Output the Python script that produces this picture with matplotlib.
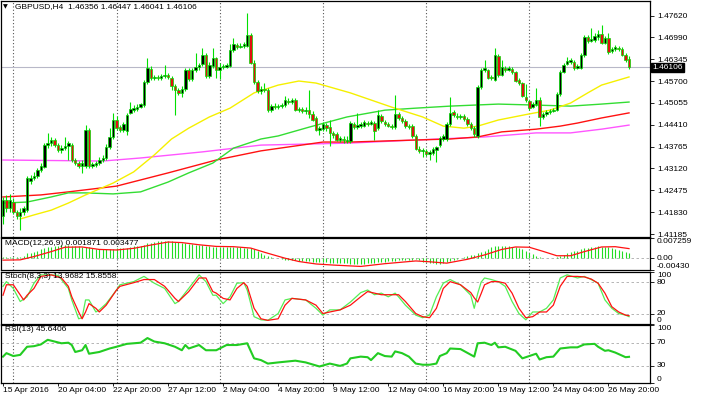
import numpy as np
import matplotlib.pyplot as plt
from matplotlib.transforms import blended_transform_factory

plt.rcParams['font.family'] = ['Liberation Sans', 'DejaVu Sans']

# GBPUSD H4 candles, one entry per bar (bar 0 = 15 Apr 2016 12:00)
opens = [1.4172, 1.4219, 1.4195, 1.4213, 1.4184, 1.4172, 1.4184, 1.4189, 1.4275, 1.4284,
         1.4290, 1.4307, 1.4316, 1.4381, 1.4387, 1.4396, 1.4381, 1.4366, 1.4372, 1.4378,
         1.4381, 1.4337, 1.4328, 1.4319, 1.4319, 1.4425, 1.4319, 1.4322, 1.4328, 1.4337,
         1.4343, 1.4375, 1.4405, 1.4455, 1.4434, 1.4425, 1.4423, 1.4476, 1.4484, 1.4487,
         1.4493, 1.4499, 1.4567, 1.4605, 1.4579, 1.4582, 1.4579, 1.4585, 1.4588, 1.4579,
         1.4555, 1.4543, 1.4535, 1.4546, 1.4602, 1.4576, 1.4602, 1.4611, 1.4620, 1.4647,
         1.4585, 1.4614, 1.4638, 1.4602, 1.4611, 1.4611, 1.4614, 1.4662, 1.4676, 1.4670,
         1.4673, 1.4673, 1.4706, 1.4623, 1.4567, 1.4541, 1.4546, 1.4543, 1.4484, 1.4496,
         1.4493, 1.4496, 1.4499, 1.4511, 1.4508, 1.4514, 1.4484, 1.4487, 1.4482, 1.4484,
         1.4473, 1.4461, 1.4425, 1.4428, 1.4440, 1.4434, 1.4417, 1.4414, 1.4396, 1.4399,
         1.4393, 1.4393, 1.4443, 1.4434, 1.4437, 1.4437, 1.4446, 1.4443, 1.4446, 1.4431,
         1.4467, 1.4449, 1.4443, 1.4437, 1.4434, 1.4473, 1.4461, 1.4452, 1.4437, 1.4437,
         1.4408, 1.4369, 1.4364, 1.4364, 1.4355, 1.4358, 1.4366, 1.4381, 1.4399, 1.4399,
         1.4443, 1.4479, 1.4467, 1.4464, 1.4467, 1.4458, 1.4443, 1.4431, 1.4408, 1.4552,
         1.4602, 1.4602, 1.4582, 1.4573, 1.4644, 1.4588, 1.4608, 1.4602, 1.4605, 1.4597,
         1.4573, 1.4564, 1.4523, 1.4511, 1.4493, 1.4502, 1.4514, 1.4464, 1.4473, 1.4479,
         1.4482, 1.4484, 1.4532, 1.4597, 1.4620, 1.4626, 1.4626, 1.4608, 1.4608, 1.4647,
         1.4700, 1.4688, 1.4691, 1.4700, 1.4709, 1.4682, 1.4697, 1.4659, 1.4664, 1.4667,
         1.4664, 1.4647, 1.46356]
highs = [1.4228, 1.4234, 1.4237, 1.4225, 1.4189, 1.4195, 1.4201, 1.4290, 1.4293, 1.4302,
         1.4313, 1.4328, 1.4387, 1.4417, 1.4405, 1.4402, 1.4387, 1.4381, 1.4405, 1.4393,
         1.4387, 1.4343, 1.4334, 1.4337, 1.4440, 1.4431, 1.4331, 1.4334, 1.4346, 1.4352,
         1.4384, 1.4431, 1.4476, 1.4467, 1.4440, 1.4449, 1.4476, 1.4508, 1.4499, 1.4502,
         1.4505, 1.4573, 1.4638, 1.4614, 1.4588, 1.4588, 1.4591, 1.4617, 1.4594, 1.4585,
         1.4561, 1.4549, 1.4555, 1.4608, 1.4608, 1.4608, 1.4653, 1.4623, 1.4667, 1.4653,
         1.4626, 1.4667, 1.4641, 1.4623, 1.4620, 1.4623, 1.4679, 1.4697, 1.4682, 1.4682,
         1.4685, 1.4771, 1.4712, 1.4632, 1.4573, 1.4555, 1.4564, 1.4549, 1.4502, 1.4505,
         1.4502, 1.4505, 1.4526, 1.4520, 1.4520, 1.4520, 1.4493, 1.4493, 1.4493, 1.4543,
         1.4482, 1.4467, 1.4437, 1.4449, 1.4446, 1.4455, 1.4423, 1.4420, 1.4408, 1.4408,
         1.4408, 1.4452, 1.4449, 1.4476, 1.4449, 1.4455, 1.4452, 1.4455, 1.4452, 1.4484,
         1.4473, 1.4455, 1.4449, 1.4443, 1.4529, 1.4479, 1.4467, 1.4458, 1.4443, 1.4443,
         1.4414, 1.4378, 1.4372, 1.4369, 1.4366, 1.4375, 1.4378, 1.4408, 1.4414, 1.4449,
         1.4523, 1.4484, 1.4476, 1.4473, 1.4473, 1.4464, 1.4449, 1.4437, 1.4558, 1.4608,
         1.4632, 1.4605, 1.4588, 1.4667, 1.4650, 1.4632, 1.4614, 1.4614, 1.4611, 1.4600,
         1.4579, 1.4567, 1.4561, 1.4514, 1.4508, 1.4549, 1.4523, 1.4479, 1.4484, 1.4487,
         1.4490, 1.4538, 1.4602, 1.4623, 1.4641, 1.4638, 1.4632, 1.4620, 1.4653, 1.4706,
         1.4706, 1.4726, 1.4712, 1.4720, 1.4735, 1.4703, 1.4712, 1.4670, 1.4676, 1.4673,
         1.4670, 1.4653, 1.46447]
lows = [1.4148, 1.4184, 1.4184, 1.4178, 1.4163, 1.4130, 1.4175, 1.4184, 1.4266, 1.4278,
        1.4284, 1.4302, 1.4313, 1.4372, 1.4378, 1.4375, 1.4361, 1.4358, 1.4366, 1.4337,
        1.4331, 1.4322, 1.4313, 1.4299, 1.4313, 1.4313, 1.4313, 1.4316, 1.4322, 1.4331,
        1.4337, 1.4369, 1.4399, 1.4425, 1.4420, 1.4420, 1.4411, 1.4473, 1.4479, 1.4482,
        1.4490, 1.4493, 1.4561, 1.4573, 1.4573, 1.4573, 1.4573, 1.4579, 1.4576, 1.4543,
        1.4470, 1.4529, 1.4523, 1.4541, 1.4570, 1.4570, 1.4597, 1.4602, 1.4614, 1.4579,
        1.4579, 1.4608, 1.4579, 1.4576, 1.4605, 1.4608, 1.4611, 1.4656, 1.4664, 1.4667,
        1.4667, 1.4670, 1.4620, 1.4561, 1.4535, 1.4532, 1.4538, 1.4479, 1.4479, 1.4487,
        1.4487, 1.4490, 1.4493, 1.4502, 1.4502, 1.4482, 1.4479, 1.4476, 1.4473, 1.4461,
        1.4452, 1.4423, 1.4411, 1.4423, 1.4423, 1.4378, 1.4402, 1.4393, 1.4390, 1.4387,
        1.4387, 1.4387, 1.4428, 1.4428, 1.4431, 1.4434, 1.4437, 1.4440, 1.4396, 1.4425,
        1.4446, 1.4437, 1.4434, 1.4428, 1.4428, 1.4455, 1.4446, 1.4431, 1.4428, 1.4402,
        1.4366, 1.4358, 1.4346, 1.4349, 1.4337, 1.4352, 1.4331, 1.4375, 1.4393, 1.4393,
        1.4437, 1.4464, 1.4458, 1.4458, 1.4452, 1.4437, 1.4425, 1.4405, 1.4402, 1.4546,
        1.4597, 1.4576, 1.4573, 1.4570, 1.4582, 1.4585, 1.4597, 1.4600, 1.4591, 1.4567,
        1.4558, 1.4523, 1.4508, 1.4484, 1.4490, 1.4496, 1.4437, 1.4458, 1.4467, 1.4473,
        1.4479, 1.4482, 1.4526, 1.4594, 1.4617, 1.4620, 1.4602, 1.4605, 1.4605, 1.4641,
        1.4682, 1.4685, 1.4685, 1.4691, 1.4679, 1.4679, 1.4650, 1.4653, 1.4659, 1.4659,
        1.4644, 1.4626, 1.46041]
closes = [1.4219, 1.4195, 1.4219, 1.4184, 1.4172, 1.4184, 1.4195, 1.4284, 1.4284, 1.4290,
          1.4307, 1.4319, 1.4381, 1.4387, 1.4396, 1.4381, 1.4366, 1.4372, 1.4378, 1.4387,
          1.4337, 1.4328, 1.4319, 1.4328, 1.4425, 1.4319, 1.4325, 1.4328, 1.4337, 1.4343,
          1.4375, 1.4405, 1.4455, 1.4431, 1.4425, 1.4443, 1.4470, 1.4487, 1.4490, 1.4493,
          1.4502, 1.4567, 1.4608, 1.4579, 1.4582, 1.4579, 1.4585, 1.4588, 1.4582, 1.4555,
          1.4543, 1.4535, 1.4546, 1.4602, 1.4576, 1.4602, 1.4611, 1.4617, 1.4647, 1.4585,
          1.4617, 1.4638, 1.4602, 1.4611, 1.4614, 1.4617, 1.4662, 1.4679, 1.4670, 1.4673,
          1.4679, 1.4706, 1.4623, 1.4567, 1.4541, 1.4546, 1.4543, 1.4484, 1.4496, 1.4493,
          1.4496, 1.4499, 1.4514, 1.4508, 1.4514, 1.4484, 1.4487, 1.4482, 1.4484, 1.4473,
          1.4455, 1.4425, 1.4431, 1.4443, 1.4431, 1.4417, 1.4411, 1.4396, 1.4402, 1.4396,
          1.4396, 1.4446, 1.4434, 1.4440, 1.4443, 1.4449, 1.4443, 1.4449, 1.4423, 1.4470,
          1.4452, 1.4443, 1.4437, 1.4434, 1.4473, 1.4461, 1.4452, 1.4437, 1.4434, 1.4408,
          1.4369, 1.4364, 1.4366, 1.4355, 1.4361, 1.4369, 1.4375, 1.4402, 1.4408, 1.4443,
          1.4476, 1.4470, 1.4464, 1.4467, 1.4458, 1.4443, 1.4431, 1.4414, 1.4552, 1.4602,
          1.4608, 1.4579, 1.4579, 1.4647, 1.4588, 1.4611, 1.4602, 1.4608, 1.4597, 1.4570,
          1.4564, 1.4526, 1.4514, 1.4490, 1.4502, 1.4514, 1.4464, 1.4473, 1.4479, 1.4482,
          1.4484, 1.4532, 1.4597, 1.4617, 1.4629, 1.4632, 1.4608, 1.4614, 1.4647, 1.4700,
          1.4688, 1.4694, 1.4703, 1.4709, 1.4682, 1.4697, 1.4656, 1.4664, 1.4670, 1.4664,
          1.4647, 1.4632, 1.46106]

# moving averages (vertices at bar index)
ma_yellow_x = [5, 9, 14, 19, 24, 32, 38, 44, 49, 54, 60, 66, 73, 80, 86, 91, 101, 113,
               122, 128, 134, 138, 144, 153, 159, 165, 170, 174, 182]
ma_yellow = [1.4163, 1.4175, 1.4189, 1.4210, 1.4234, 1.4269, 1.4302, 1.4352, 1.4399,
             1.4431, 1.4464, 1.4490, 1.4535, 1.4558, 1.4570, 1.4564, 1.4535, 1.4493,
             1.4464, 1.4437, 1.4431, 1.4437, 1.4455, 1.4473, 1.4484, 1.4505, 1.4535,
             1.4558, 1.4582]
ma_green_x = [0, 7, 14, 19, 24, 32, 40, 48, 54, 61, 67, 75, 80, 89, 100, 111, 120, 130,
              144, 155, 165, 174, 182]
ma_green = [1.4210, 1.4213, 1.4228, 1.4240, 1.4240, 1.4237, 1.4243, 1.4272, 1.4299,
            1.4328, 1.4372, 1.4399, 1.4408, 1.4434, 1.4464, 1.4484, 1.4490, 1.4496,
            1.4502, 1.4499, 1.4496, 1.4502, 1.4508]
ma_red_x = [0, 11, 19, 33, 48, 62, 75, 93, 101, 120, 130, 138, 145, 155, 162, 167, 174, 182]
ma_red = [1.4228, 1.4234, 1.4243, 1.4260, 1.4299, 1.4337, 1.4364, 1.4390, 1.4390,
          1.4396, 1.4399, 1.4405, 1.4420, 1.4428, 1.4437, 1.4446, 1.4461, 1.4476]
ma_magenta_x = [0, 29, 40, 58, 75, 101, 120, 140, 155, 165, 174, 182]
ma_magenta = [1.4337, 1.4334, 1.4343, 1.4361, 1.4381, 1.4387, 1.4396, 1.4405, 1.4417,
              1.4417, 1.4428, 1.4440]

# MACD(12,26,9): main per bar in units of 1e-4, signal at vertices
macd_main_e4 = [3, 3, 4, 3, 3, 5, 8, 18, 20, 24,
                28, 32, 36, 40, 42, 44, 46, 48, 48, 48,
                46, 45, 43, 42, 42, 40, 37, 35, 33, 32,
                32, 33, 35, 36, 36, 37, 38, 40, 43, 44,
                45, 49, 54, 57, 59, 61, 63, 63, 62, 61,
                60, 58, 56, 55, 53, 51, 49, 48, 47, 45,
                43, 42, 42, 41, 41, 42, 42, 42, 41, 40,
                39, 38, 36, 32, 26, 20, 12, 8, 4, 2,
                0, -4, -5, -6, -7, -8, -9, -10, -11, -12,
                -13, -14, -14, -15, -15, -16, -16, -17, -18, -18,
                -19, -20, -21, -22, -22, -21, -19, -18, -17, -15,
                -14, -13, -12, -11, -9, -8, -7, -6, -5, -5,
                -4, -8, -13, -15, -17, -19, -20, -20, -19, -14,
                -9, -5, -2, 1, 4, 8, 10, 12, 18, 24,
                28, 34, 40, 43, 44, 44, 44, 43, 42, 42,
                38, 32, 27, 20, 14, 8, 5, 2, 0, 0,
                2, 3, 7, 12, 18, 22, 25, 28, 32, 36,
                39, 41, 42, 43, 42, 41, 40, 37, 34, 30,
                25, 21, 19]
macd_sig_x = [0, 5, 9, 14, 18, 23, 28, 33, 38, 43, 48, 52, 57, 62, 67, 72, 77, 82, 86, 91,
              96, 104, 111, 120, 124, 129, 135, 140, 145, 149, 153, 157, 161, 165, 169,
              174, 178, 182]
macd_sig_e4 = [-7, -6, 6, 24, 40, 41, 32, 30, 36, 48, 59, 57, 49, 43, 42, 37, 18, 0, -12,
               -21, -25, -30, -20, -10, -13, -18, -4, 12, 32, 41, 40, 25, 9, 9, 24, 41, 42, 35]

# Stochastic(8,3,3)
stoch_k_x = [0, 1, 3, 5, 7, 9, 11, 14, 16, 17, 19, 20, 22, 23, 24, 25, 27, 28, 30, 33, 34,
             38, 41, 44, 47, 50, 51, 54, 57, 59, 61, 62, 64, 66, 68, 70, 71, 73, 75, 77,
             80, 82, 84, 88, 91, 93, 95, 98, 101, 104, 106, 108, 110, 112, 114, 115, 117,
             120, 122, 124, 126, 128, 130, 133, 136, 137, 138, 139, 140, 142, 144, 146,
             148, 150, 152, 154, 156, 158, 160, 162, 164, 167, 169, 171, 173, 175, 177,
             179, 181, 182]
stoch_k = [72, 81, 68, 43, 52, 78, 94, 94, 93, 85, 68, 46, 10, 12, 46, 46, 23, 27, 39, 65,
           75, 81, 91, 78, 68, 39, 43, 68, 94, 81, 55, 55, 39, 52, 78, 79, 65, 14, 8, 7,
           20, 46, 49, 46, 30, 17, 27, 27, 42, 60, 65, 56, 59, 52, 59, 52, 36,
           17, 12, 17, 52, 78, 85, 75, 55, 30, 58, 80, 88, 85, 81, 72,
           43, 20, 8, 23, 23, 30, 46, 88, 94, 88, 91, 85, 78, 46, 30,
           20, 17, 13.97]
stoch_d_x = [0, 1, 3, 6, 7, 9, 11, 14, 17, 19, 20, 22, 23, 24, 25, 27, 28, 30, 33, 34, 38,
             41, 44, 47, 50, 51, 54, 57, 59, 61, 62, 64, 66, 68, 70, 71, 73, 75, 77, 80,
             82, 84, 88, 91, 93, 95, 98, 101, 104, 106, 108, 110, 112, 115, 117, 120, 122,
             124, 126, 128, 130, 133, 136, 137, 138, 139, 140, 142, 144, 146, 148, 150,
             152, 154, 156, 158, 160, 162, 164, 167, 169, 171, 173, 175, 177, 179, 181, 182]
stoch_d = [55, 75, 75, 46, 55, 68, 91, 94, 88, 72, 52, 23, 10, 23, 39, 30, 23, 36, 65, 72, 79,
           85, 85, 72, 49, 43, 62, 88, 88, 62, 59, 49, 46, 68, 79, 72, 30, 10, 7, 10,
           36, 49, 46, 36, 20, 23, 27, 36, 52, 62, 59, 56, 56, 56, 43, 20, 14,
           12, 30, 68, 81, 75, 60, 50, 42, 58, 75, 81, 81, 78, 59, 30,
           12, 14, 23, 23, 36, 72, 91, 91, 90, 86, 78, 59, 33, 23, 17, 15.86]

# RSI(13)
rsi_x = [0, 1, 3, 5, 7, 9, 11, 13, 15, 17, 19, 20, 21, 23, 24, 25, 28, 31, 33, 36, 38, 40,
         42, 44, 47, 50, 52, 53, 54, 57, 59, 62, 65, 68, 71, 73, 75, 77, 80, 85, 88, 92,
         95, 98, 100, 101, 104, 106, 107, 109, 111, 113, 114, 116, 118, 120, 122, 124,
         126, 127, 129, 130, 133, 137, 138, 140, 142, 143, 144, 146, 149, 151, 153, 155,
         156, 158, 160, 162, 165, 167, 169, 172, 173, 175, 176, 178, 181, 182]
rsi = [46, 52, 47, 49, 63, 64, 67, 75, 72, 69, 70, 66, 54, 57, 66, 51, 54, 60, 63, 68, 69, 70,
       78, 72, 69, 63, 57, 66, 60, 66, 57, 57, 66, 66, 69, 43, 40, 34, 36, 39, 36, 29,
       34, 30, 34, 43, 46, 45, 40, 52, 47, 46, 55, 52, 46, 34, 32, 32,
       34, 47, 52, 60, 59, 46, 69, 70, 66, 70, 62, 63, 56, 43, 47, 51,
       41, 45, 46, 60, 62, 62, 67, 68, 63, 56, 57, 53, 45, 45.64]

price_ticks = [1.47620, 1.46990, 1.46345, 1.45700, 1.45055, 1.44410, 1.43765, 1.43120,
               1.42475, 1.41830, 1.41185]
date_bars = [0, 16, 32, 48, 64, 80, 96, 112, 128, 144, 160, 176]
date_labels = ["15 Apr 2016", "20 Apr 04:00", "22 Apr 20:00", "27 Apr 12:00", "2 May 04:00",
               "4 May 20:00", "9 May 12:00", "12 May 04:00", "16 May 20:00", "19 May 12:00",
               "24 May 04:00", "26 May 20:00"]
grid_bars = [3, 33, 63, 93, 123, 153]

W, H = 711, 398
fig = plt.figure(figsize=(W / 100, H / 100), dpi=100)
fig.patch.set_facecolor('white')


def panel(top, bottom):
    a = fig.add_axes([1 / W, 1 - bottom / H, 649 / W, (bottom - top) / H])
    a.set_xlim(-0.58, 188.1)
    for s in a.spines.values():
        s.set_linewidth(0.9)
        s.set_color('black')
    a.yaxis.tick_right()
    a.tick_params(axis='y', direction='out', length=3, width=0.6, pad=2, labelsize=6)
    a.tick_params(axis='x', bottom=False, labelbottom=False)
    for g in grid_bars:
        a.axvline(g, color='#555555', ls=(0, (1, 2)), lw=0.8, zorder=0)
    return a


ax = panel(1, 237.3)
ax_macd = panel(238.3, 270)
ax_st = panel(271.7, 324)
ax_rsi = panel(325.3, 383.3)

o = np.array(opens)
h = np.array(highs)
l = np.array(lows)
c = np.array(closes)
bars = np.arange(len(c))

# main chart
ax.set_ylim(1.41090, 1.48061)
ax.axhline(c[-1], color='#b8b8c8', lw=0.8, zorder=1)
ax.plot(ma_magenta_x, ma_magenta, color='#ff55ff', lw=1.0, zorder=2)
ax.plot(ma_red_x, ma_red, color='#ff1111', lw=1.0, zorder=2)
ax.plot(ma_green_x, ma_green, color='#33dd33', lw=1.0, zorder=2)
ax.plot(ma_yellow_x, ma_yellow, color='#f5f000', lw=1.0, zorder=2)

up = c >= o
ax.vlines(bars, l, h, color='#00e000', lw=0.8, zorder=3)
body_h = np.maximum(np.abs(c - o), 0.00004)
ax.bar(bars, body_h, bottom=np.minimum(o, c), width=0.72,
       color=np.where(up, 'black', '#e01010'), edgecolor='#00e000', linewidth=0.5, zorder=4)

ax.set_yticks(price_ticks)
ax.set_yticklabels([f"{p:.5f}" for p in price_ticks])
tr = blended_transform_factory(ax.transAxes, ax.transData)
ax.text(1.003, c[-1], f"{c[-1]:.5f}", transform=tr, va='center', ha='left', fontsize=6,
        color='white', bbox=dict(boxstyle='square,pad=0.15', fc='black', ec='black'))
fig.text(3 / W, 1 - 7 / H, "\u25bc", fontsize=4.5, va='center', ha='left',
         family=['DejaVu Sans'])
fig.text(15 / W, 1 - 7 / H, "GBPUSD,H4  1.46356 1.46447 1.46041 1.46106", fontsize=6,
         va='center', ha='left')

# MACD
macd_main = np.array(macd_main_e4) * 1e-4
ax_macd.set_ylim(-0.00430, 0.007259)
ax_macd.axhline(0, color='#aaaaaa', ls=(0, (3, 3)), lw=0.6, zorder=0)
ax_macd.vlines(bars, 0, macd_main, color='#22dd22', lw=0.8)
ax_macd.plot(macd_sig_x, np.array(macd_sig_e4) * 1e-4, color='#ff1111', lw=0.9)
ax_macd.set_yticks([0.007259, 0.0, -0.00430])
ax_macd.set_yticklabels(['0.007259', '0.00', '-0.00430'])
for lbl, va in zip(ax_macd.get_yticklabels(), ['top', 'center', 'bottom']):
    lbl.set_va(va)
ax_macd.text(0.006, 0.95, "MACD(12,26,9) 0.001871 0.003477", transform=ax_macd.transAxes,
             fontsize=6, va='top', ha='left')

# Stochastic
ax_st.set_ylim(0, 100)
for lev in (20, 80):
    ax_st.axhline(lev, color='#aaaaaa', ls=(0, (3, 3)), lw=0.6, zorder=0)
ax_st.plot(stoch_k_x, stoch_k, color='#55ee55', lw=0.9)
ax_st.plot(stoch_d_x, stoch_d, color='#ff1111', lw=0.9)
ax_st.set_yticks([100, 80, 20, 0])
ax_st.set_yticklabels(['100', '80', '20', '0'])
for lbl, va in zip(ax_st.get_yticklabels(), ['top', 'center', 'center', 'bottom']):
    lbl.set_va(va)
ax_st.text(0.006, 0.97, "Stoch(8,3,3) 13.9682 15.8558", transform=ax_st.transAxes,
           fontsize=6, va='top', ha='left')

# RSI
ax_rsi.set_ylim(0, 100)
for lev in (30, 70):
    ax_rsi.axhline(lev, color='#aaaaaa', ls=(0, (3, 3)), lw=0.6, zorder=0)
ax_rsi.plot(rsi_x, rsi, color='#22cc22', lw=1.5)
ax_rsi.set_yticks([100, 70, 30, 0])
ax_rsi.set_yticklabels(['100', '70', '30', '0'])
for lbl, va in zip(ax_rsi.get_yticklabels(), ['top', 'center', 'center', 'bottom']):
    lbl.set_va(va)
ax_rsi.text(0.006, 0.98, "RSI(13) 45.6406", transform=ax_rsi.transAxes,
            fontsize=6, va='top', ha='left')

ax_rsi.tick_params(axis='x', bottom=True, labelbottom=True, direction='out', length=2,
                   width=0.6, pad=1, labelsize=6)
ax_rsi.set_xticks(date_bars)
ax_rsi.set_xticklabels(date_labels, ha='left')

fig.savefig('out.png', dpi=100)
